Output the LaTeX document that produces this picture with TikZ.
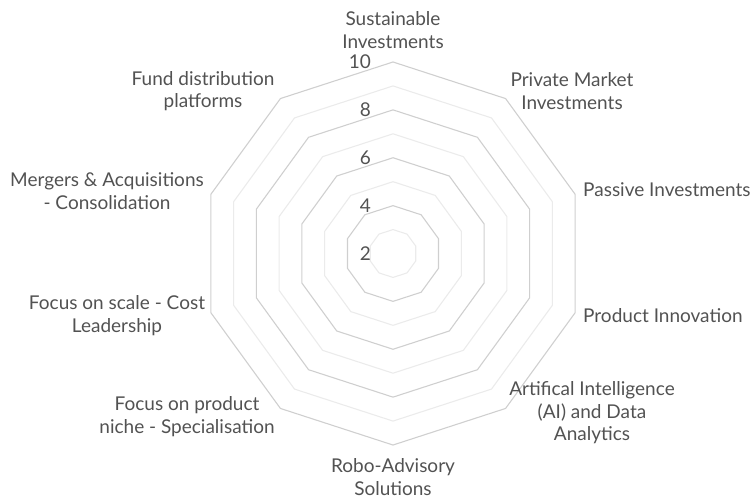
\documentclass[tikz,border=0pt]{standalone}
\usepackage{fontspec}
\setmainfont{Lato}
\begin{document}
\begin{tikzpicture}[x=1pt,y=-1pt,
  lbl/.style={text=black!68, font=\fontsize{19}{22.5}\selectfont, align=center, inner sep=0pt},
  tick/.style={text=black!68, font=\fontsize{19}{22.5}\selectfont, inner sep=0pt, anchor=east},
  ringdark/.style={draw=black!19, line width=1.1pt, line join=round},
  ringlight/.style={draw=black!8, line width=1.1pt, line join=round}]
\useasboundingbox (0,0) rectangle (755,499);
\coordinate (c) at (393,253.5);
% rings
\foreach \v in {3,5,7,9}{
  \pgfmathsetmacro{\r}{(\v-2)*23.94}
  \draw[ringlight] ([shift={(c)}]-90:\r) \foreach \k in {1,...,9}{ -- ([shift={(c)}]{-90+36*\k}:\r)} -- cycle;
}
\foreach \v in {4,6,8,10}{
  \pgfmathsetmacro{\r}{(\v-2)*23.94}
  \draw[ringdark] ([shift={(c)}]-90:\r) \foreach \k in {1,...,9}{ -- ([shift={(c)}]{-90+36*\k}:\r)} -- cycle;
}
% scale labels
\foreach \v in {2,4,6,8,10}{
  \pgfmathsetmacro{\yy}{253.5-(\v-2)*23.94}
  \node[tick] (t\v) at (371,\yy) {\v};
}
% category labels
\node[lbl] (l0) at (393,30) {Sustainable\\Investments};
\node[lbl] (l1) at (572,91) {Private Market\\Investments};
\node[lbl,anchor=west] (l2) at (583,190) {Passive Investments};
\node[lbl,anchor=west] (l3) at (583,316) {Product Innovation};
\node[lbl] (l4) at (592,413) {Artifical Intelligence\\(AI) and Data\\Analytics};
\node[lbl] (l5) at (393,477) {Robo-Advisory\\Solutions};
\node[lbl] (l6) at (187,416.5) {Focus on product\\niche - Specialisation};
\node[lbl] (l7) at (117,315.5) {Focus on scale - Cost\\Leadership};
\node[lbl] (l8) at (107,191) {Mergers \& Acquisitions\\- Consolidation};
\node[lbl] (l9) at (203,91) {Fund distribution\\platforms};
\end{tikzpicture}
\end{document}
